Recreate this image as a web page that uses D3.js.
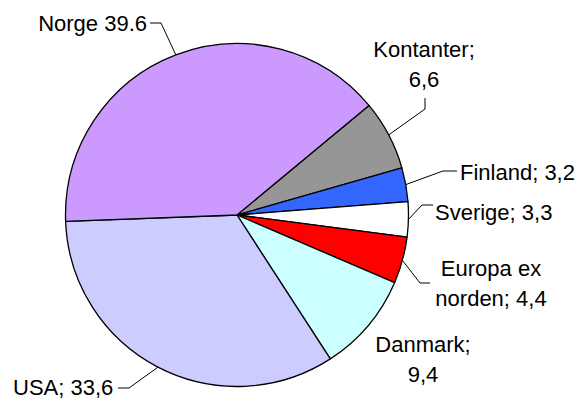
<!DOCTYPE html>
<html>
<head>
<meta charset="utf-8">
<script src="https://cdn.jsdelivr.net/npm/d3@7"></script>
<style>
  body { margin: 0; background: #fff; }
  text { font-family: "Liberation Sans", Arial, sans-serif; font-size: 22px; fill: #000; }
</style>
</head>
<body>
<div id="chart"></div>
<script>
// slices, clockwise from the Norge/Kontanter edge
var names = ["Kontanter", "Finland", "Sverige", "Europa ex norden", "Danmark", "USA", "Norge"];
var values = [6.6, 3.2, 3.3, 4.4, 9.4, 33.6, 39.6];
var labelLines = [
    ["Kontanter;", "6,6"],
    ["Finland; 3,2"],
    ["Sverige; 3,3"],
    ["Europa ex", "norden; 4,4"],
    ["Danmark;", "9,4"],
    ["USA; 33,6"],
    ["Norge 39.6"]
];
var colors = ["#969696", "#3366ff", "#ffffff", "#ff0000", "#ccffff", "#ccccff", "#cc99ff"];

// label placement: x, first baseline, anchor, leader tail and elbow (null = no leader)
var labelPos = [
    {x: 424, y: 57, anchor: "middle", tail: [425, 98], bend: [425, 109]},
    {x: 460, y: 180, anchor: "start", tail: [457, 171], bend: [443, 171]},
    {x: 435, y: 220, anchor: "start", tail: [433, 205], bend: [422, 205]},
    {x: 491, y: 276, anchor: "middle", tail: [430, 283], bend: [420, 283]},
    {x: 423, y: 352, anchor: "middle", tail: null, bend: null},
    {x: 13, y: 395, anchor: "start", tail: [118, 388], bend: [129, 388]},
    {x: 147, y: 31, anchor: "end", tail: [150, 23], bend: [161, 23]}
];

var w = 582, h = 401;
var cx = 237, cy = 215, radius = 171.5;
var start = 50.3 * Math.PI / 180;

var data = names.map(function(n, i) { return {name: n, value: values[i], i: i}; });

var pie = d3.pie()
    .sort(null)
    .value(function(d) { return d.value; })
    .startAngle(start)
    .endAngle(start + 2 * Math.PI);

var arc = d3.arc().innerRadius(0).outerRadius(radius);
var edge = d3.arc().innerRadius(radius).outerRadius(radius);

var svg = d3.select("#chart")
    .append("svg")
    .attr("width", w)
    .attr("height", h);

var g = svg.append("g")
    .attr("transform", "translate(" + cx + "," + cy + ")");

var arcs = pie(data);

g.selectAll("path.slice")
    .data(arcs)
    .enter()
    .append("path")
    .attr("class", "slice")
    .attr("d", arc)
    .attr("fill", function(d) { return colors[d.data.i]; })
    .attr("stroke", "#000")
    .attr("stroke-width", 1.3)
    .attr("stroke-linejoin", "round");

// leader lines from slice middle on the rim to the label
svg.selectAll("polyline.leader")
    .data(arcs.filter(function(d) { return labelPos[d.data.i].tail; }))
    .enter()
    .append("polyline")
    .attr("class", "leader")
    .attr("fill", "none")
    .attr("stroke", "#000")
    .attr("stroke-width", 1)
    .attr("points", function(d) {
        var p = labelPos[d.data.i];
        var c = edge.centroid(d);
        return [p.tail, p.bend, [c[0] + cx, c[1] + cy]].map(function(q) { return q.join(","); }).join(" ");
    });

var labels = svg.selectAll("text.lbl")
    .data(arcs)
    .enter()
    .append("text")
    .attr("class", "lbl")
    .attr("text-anchor", function(d) { return labelPos[d.data.i].anchor; });

labels.selectAll("tspan")
    .data(function(d) {
        var p = labelPos[d.data.i];
        return labelLines[d.data.i].map(function(t, k) { return {t: t, x: p.x, y: p.y + k * 30}; });
    })
    .enter()
    .append("tspan")
    .attr("x", function(d) { return d.x; })
    .attr("y", function(d) { return d.y; })
    .text(function(d) { return d.t; });
</script>
</body>
</html>
